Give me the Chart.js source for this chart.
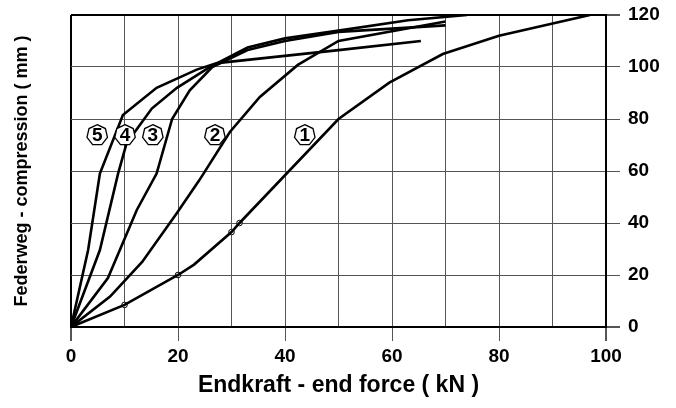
<!DOCTYPE html>
<html>
<head>
<meta charset="utf-8">
<script src="https://cdn.jsdelivr.net/npm/chart.js@4/dist/chart.umd.min.js"></script>
<style>
  html, body { margin: 0; padding: 0; background: #fff; }
  #wrap { width: 676px; height: 408px; }
</style>
</head>
<body>
<div id="wrap"><canvas id="springCanvas"></canvas></div>
<script>
// Curve data (x = end force kN, y = compression mm)
const curve1X = [0, 10, 20, 23, 30, 31.5, 50, 59.5, 69.5, 80, 97];
const curve1Y = [0, 8.5, 20, 24, 36.5, 40, 80, 94, 105, 112, 120];
const curve2X = [0, 7.3, 13.3, 19.8, 24, 29.7, 35.3, 42.4, 50, 70];
const curve2Y = [0, 11.7, 25, 43.8, 56.5, 75, 88.5, 100.8, 110, 117.5];
const curve3X = [0, 6.9, 12.3, 16, 18.9, 22.2, 26.4, 33, 40, 50, 70];
const curve3Y = [0, 18.8, 45, 59, 80, 91, 100, 106.5, 110, 113.5, 116];
const curve4X = [0, 5.4, 8.8, 10.4, 15.1, 19.8, 26, 33, 40, 50, 63, 74];
const curve4Y = [0, 29.6, 59, 70.7, 84, 92, 100, 107.5, 111, 114, 118, 120];
const curve5X = [0, 3.2, 5.4, 9.7, 16, 23.5, 27.3, 50, 65.4];
const curve5Y = [0, 29.6, 59, 81.5, 92, 99, 101.5, 106.5, 110];

// small measuring points on curve 1
const markX = [10, 20, 30, 31.5];
const markY = [8.5, 20, 36.5, 40];

// curve number tags
const tagText = ['1', '2', '3', '4', '5'];
const tagX = [43.7, 26.9, 15.3, 10.1, 4.9];
const tagY = [73.8, 73.8, 73.8, 73.8, 73.8];

const xTitle = 'Endkraft - end force ( kN )';
const yTitle = 'Federweg - compression ( mm )';

const FONT = "'Liberation Sans', Arial, Helvetica, sans-serif";

function toPoints(xs, ys) {
    return xs.map((x, i) => ({ x: x, y: ys[i] }));
}

function curve(xs, ys) {
    return {
        data: toPoints(xs, ys),
        borderColor: '#000',
        borderWidth: 2.6,
        pointRadius: 0,
        tension: 0,
        fill: false
    };
}

// draws the numbered tags (polygon with number)
const tagPlugin = {
    id: 'curveTags',
    afterDatasetsDraw(chart) {
        const ctx = chart.ctx;
        const xs = chart.scales.x;
        const ys = chart.scales.y;
        ctx.save();
        tagText.forEach((t, i) => {
            const cx = xs.getPixelForValue(tagX[i]);
            const cy = ys.getPixelForValue(tagY[i]);
            const r = 10.5;
            ctx.beginPath();
            for (let k = 0; k < 7; k++) {
                const a = -Math.PI / 2 + k * 2 * Math.PI / 7;
                const px = cx + r * Math.cos(a);
                const py = cy + r * Math.sin(a);
                if (k === 0) ctx.moveTo(px, py); else ctx.lineTo(px, py);
            }
            ctx.closePath();
            ctx.fillStyle = '#fff';
            ctx.fill();
            ctx.lineWidth = 1.3;
            ctx.strokeStyle = '#000';
            ctx.stroke();
            ctx.fillStyle = '#000';
            ctx.font = 'bold 19px ' + FONT;
            ctx.textAlign = 'center';
            ctx.textBaseline = 'middle';
            ctx.fillText(t, cx, cy + 1);
        });
        ctx.restore();
    }
};

const edgeColor = (v, lo, hi) => (v === lo || v === hi) ? '#000' : '#555';
const edgeWidth = (v, lo, hi) => (v === lo || v === hi) ? 2 : 1;

new Chart(document.getElementById('springCanvas').getContext('2d'), {
    type: 'line',
    data: {
        datasets: [
            curve(curve1X, curve1Y),
            curve(curve2X, curve2Y),
            curve(curve3X, curve3Y),
            curve(curve4X, curve4Y),
            curve(curve5X, curve5Y),
            {
                data: toPoints(markX, markY),
                showLine: false,
                pointRadius: 2.8,
                pointBorderWidth: 1,
                pointBorderColor: '#000',
                pointBackgroundColor: 'rgba(255,255,255,0.6)'
            }
        ]
    },
    options: {
        responsive: true,
        maintainAspectRatio: false,
        animation: false,
        layout: { padding: { top: 15, left: 0, right: 0, bottom: 0 } },
        plugins: {
            legend: { display: false },
            tooltip: { enabled: false }
        },
        scales: {
            x: {
                type: 'linear',
                min: 0,
                max: 100,
                ticks: {
                    stepSize: 10,
                    color: '#000',
                    padding: 4,
                    font: { family: FONT, size: 19, weight: 'bold' },
                    callback: (v) => (v % 20 === 0 ? v : '')
                },
                grid: {
                    color: (c) => edgeColor(c.tick && c.tick.value, 0, 100),
                    lineWidth: (c) => edgeWidth(c.tick && c.tick.value, 0, 100),
                    tickLength: 14,
                    tickColor: (c) => (c.tick && c.tick.value % 20 === 0 ? '#555' : 'rgba(0,0,0,0)')
                },
                border: { color: '#000', width: 2 },
                title: {
                    display: true,
                    text: xTitle,
                    color: '#000',
                    font: { family: FONT, size: 23, weight: 'bold' },
                    padding: { top: 0, bottom: 9 }
                },
                afterFit: (s) => { s.height = 81; s.paddingLeft = 0; s.paddingRight = 0; }
            },
            y: {
                type: 'linear',
                position: 'right',
                min: 0,
                max: 120,
                ticks: {
                    stepSize: 20,
                    color: '#000',
                    padding: 8,
                    font: { family: FONT, size: 19, weight: 'bold' }
                },
                grid: {
                    color: (c) => edgeColor(c.tick && c.tick.value, 0, 120),
                    lineWidth: (c) => edgeWidth(c.tick && c.tick.value, 0, 120),
                    tickLength: 14,
                    tickColor: '#555'
                },
                border: { color: '#000', width: 2 },
                afterFit: (s) => { s.width = 70; s.paddingTop = 0; s.paddingBottom = 0; }
            },
            yTitleAxis: {
                type: 'linear',
                position: 'left',
                display: true,
                ticks: { display: false },
                grid: { display: false },
                border: { display: false },
                title: {
                    display: true,
                    text: yTitle,
                    color: '#000',
                    font: { family: FONT, size: 18, weight: 'bold' },
                    padding: { top: 11, bottom: 0 }
                },
                afterFit: (s) => { s.width = 71; s.paddingTop = 0; s.paddingBottom = 0; }
            }
        }
    },
    plugins: [tagPlugin]
});
</script>
</body>
</html>
